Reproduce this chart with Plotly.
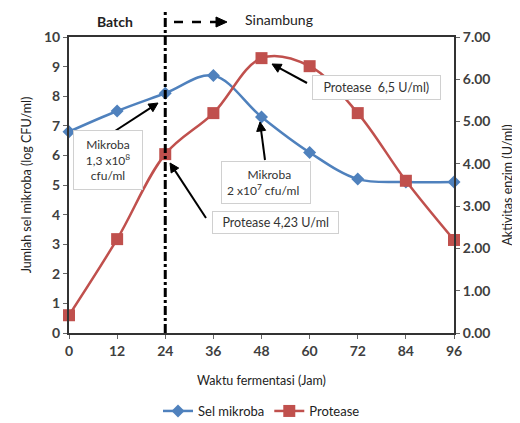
import math
import plotly.graph_objects as go

waktu = [0, 12, 24, 36, 48, 60, 72, 84, 96]
sel_mikroba = [6.8, 7.5, 8.1, 8.7, 7.3, 6.1, 5.2, 5.1, 5.1]
protease = [0.42, 2.22, 4.23, 5.2, 6.5, 6.31, 5.2, 3.6, 2.2]
x_ticks = [0, 12, 24, 36, 48, 60, 72, 84, 96]

BLUE = "#4F81BD"
RED = "#C0504D"
FONT = "Lato, 'Open Sans', sans-serif"

# plot area in reference (page) pixels
L, R, T, B = 69, 454, 37, 333
PAGE_OFF = 8  # default html body margin
W, H = 520 - PAGE_OFF, 423 - PAGE_OFF

def px_x(px):
    return (px - L) / (R - L) * 96

def px_y(py):
    return (B - py) / (B - T) * 10

def pp_x(px):
    return (px - L) / (R - L)

def pp_y(py):
    return (B - py) / (B - T)

fig = go.Figure()
fig.add_trace(go.Scatter(
    x=waktu, y=sel_mikroba, name="Sel mikroba", mode="lines+markers",
    line=dict(color=BLUE, width=2.5, shape="spline", smoothing=1),
    marker=dict(symbol="diamond", size=10, color=BLUE),
    cliponaxis=False, yaxis="y"))
fig.add_trace(go.Scatter(
    x=waktu, y=protease, name="Protease", mode="lines+markers",
    line=dict(color=RED, width=2.5, shape="spline", smoothing=1),
    marker=dict(symbol="square", size=12, color=RED),
    cliponaxis=False, yaxis="y2"))

shapes = [
    # vertical dash-dot line at 24 h
    dict(type="line", xref="x", yref="paper", x0=24, x1=24, y0=0, y1=pp_y(12),
         line=dict(color="black", width=3, dash="dashdot")),
]

def arrow_shapes(hx, hy, tx, ty, width=2, dash="solid", hl=9, hw=4.5):
    d = math.hypot(hx - tx, hy - ty)
    ux, uy = (hx - tx) / d, (hy - ty) / d
    bx, by = hx - ux * hl, hy - uy * hl
    nx, ny = -uy, ux
    out = [dict(type="line", xref="paper", yref="paper",
                x0=pp_x(tx), y0=pp_y(ty), x1=pp_x(bx + ux * 2), y1=pp_y(by + uy * 2),
                line=dict(color="black", width=width, dash=dash))]
    p1 = (bx + nx * hw, by + ny * hw)
    p2 = (bx - nx * hw, by - ny * hw)
    path = "M {} {} L {} {} L {} {} Z".format(
        pp_x(hx), pp_y(hy), pp_x(p1[0]), pp_y(p1[1]), pp_x(p2[0]), pp_y(p2[1]))
    out.append(dict(type="path", xref="paper", yref="paper", path=path,
                    fillcolor="black", line=dict(color="black", width=1)))
    return out

shapes += arrow_shapes(158, 103, 115, 131)
shapes += arrow_shapes(170, 163, 206, 218)
shapes += arrow_shapes(260, 122, 265, 160)
shapes += arrow_shapes(272, 64, 307, 83)
shapes += arrow_shapes(227, 22, 174, 22, width=2.5, dash="dash", hl=11, hw=5)

ann = []
def box(px, py, text, pad=5, size=12):
    ann.append(dict(x=px_x(px), y=px_y(py), xref="x", yref="y", text=text,
                    xanchor="center", yanchor="middle",
                    showarrow=False, bgcolor="white", bordercolor="#D0D0D0",
                    borderwidth=1, borderpad=pad,
                    font=dict(family=FONT, size=size, color="#333333")))

NB = "&nbsp;"
box(108, 160, NB * 2 + "Mikroba" + NB * 2 + "<br>1,3 x10<sup>8</sup><br>cfu/ml", pad=6)
box(275, 222, NB * 2 + "Protease 4,23 U/ml" + NB * 2, pad=3, size=12.5)
box(266, 182, NB * 2 + "Mikroba<br>2 x10<sup>7</sup> cfu/ml" + NB * 2, pad=5)
box(376, 87, NB * 2 + "Protease  6,5 U/ml)" + NB * 2, pad=4, size=12.5)

# top labels
ann.append(dict(x=pp_x(115), y=pp_y(21), xref="paper", yref="paper", text="<b>Batch</b>",
                xanchor="center", yanchor="middle",
                showarrow=False, font=dict(family=FONT, size=14, color="#222")))
ann.append(dict(x=pp_x(279), y=pp_y(20), xref="paper", yref="paper", text="Sinambung",
                xanchor="center", yanchor="middle",
                showarrow=False, font=dict(family=FONT, size=14, color="#222")))

axis_font = dict(family=FONT, size=14, color="#404040", weight="bold")
title_font = dict(family=FONT, size=12.5, color="#222222")

fig.update_layout(
    width=W, height=H, autosize=False,
    margin=dict(l=L - PAGE_OFF, r=W - (R - PAGE_OFF), t=T - PAGE_OFF, b=H - (B - PAGE_OFF),
                autoexpand=False),
    paper_bgcolor="white", plot_bgcolor="white",
    showlegend=True,
    legend=dict(orientation="h", x=0.5, xanchor="center", y=pp_y(411), yanchor="middle",
                font=dict(family=FONT, size=13, color="#222"),
                tracegroupgap=0),
    xaxis=dict(range=[0, 96], tickvals=x_ticks, ticktext=[str(v) for v in x_ticks],
               showline=True, linecolor="#333", linewidth=2, mirror=True,
               ticks="outside", ticklen=4, tickcolor="#666", showgrid=False, zeroline=False,
               tickfont=axis_font, automargin=False,
               title=dict(text="Waktu fermentasi (Jam)", font=title_font, standoff=18)),
    yaxis=dict(range=[0, 10], dtick=1, showline=True, linecolor="#333", linewidth=2,
               ticks="outside", ticklen=4, tickcolor="#666", showgrid=False, zeroline=False,
               tickfont=axis_font, automargin=False,
               title=dict(text="Jumlah sel mikroba (log CFU/ml)", font=title_font, standoff=10)),
    yaxis2=dict(range=[0, 7], dtick=1, tickformat=".2f", overlaying="y", side="right",
                showline=True, linecolor="#333", linewidth=2,
                ticks="outside", ticklen=4, tickcolor="#666", showgrid=False, zeroline=False,
                tickfont=axis_font, automargin=False,
                title=dict(text="Aktivitas enzim (U/ml)", font=title_font, standoff=14)),
    shapes=shapes, annotations=ann,
)

fig.write_html("out.html")
